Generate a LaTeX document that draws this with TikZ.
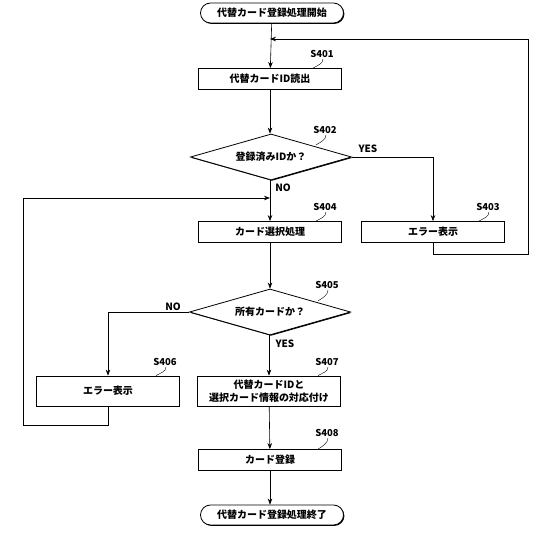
\documentclass[tikz,border=0pt]{standalone}
\usepackage{fontspec}
\setmainfont{Noto Sans CJK JP}
\usetikzlibrary{arrows.meta}
\usetikzlibrary{shapes.geometric}
\usetikzlibrary{shadows}
\tikzset{shade/.style={drop shadow={shadow xshift=0.9pt,shadow yshift=-0.9pt,opacity=1,fill=black}},
	proc/.style={draw,thick,fill=white,shade,minimum width=143pt,minimum height=21pt,align=center,inner sep=1pt},
	term/.style={proc,rounded corners=10pt,minimum height=20pt},
	dec/.style={diamond,draw,thick,fill=white,shade,aspect=3.5,inner sep=1pt,minimum width=161pt,minimum height=46pt},
	steplbl/.style={inner sep=1pt,font=\fontsize{9.5pt}{11pt}\selectfont\bfseries},
	anslbl/.style={inner sep=1pt,font=\fontsize{10pt}{11pt}\selectfont\bfseries},
	flow/.style={draw,semithick,->}}

\begin{document}
\begin{tikzpicture}[x=1pt,y=-1pt,font=\fontsize{10pt}{13pt}\selectfont\bfseries,
	>={Stealth[black,length=6pt,width=4.5pt]}]
		\useasboundingbox (0,0) rectangle (550,534);
		% steps
		\node[term] (T0) at (272,13) {代替カード登録処理開始};
		\node[proc] (P401) at (270,79) {代替カードID読出};
		\node[dec] (D402) at (271,157) {登録済みIDか？};
		\node[proc] (P403) at (433,232) {エラー表示};
		\node[proc] (P404) at (270,232) {カード選択処理};
		\node[dec] (D405) at (270,312) {所有カードか？};
		\node[proc,minimum height=30pt] (P406) at (108,391) {エラー表示};
		\node[proc,minimum height=30pt] (P407) at (269,391) {代替カードIDと\\選択カード情報の対応付け};
		\node[proc] (P408) at (270,460) {カード登録};
		\node[term] (T1) at (272,515) {代替カード登録処理終了};
		% joints of the loops
		\coordinate (J401) at (270,39);
		\coordinate (C403) at (528,254);
		\coordinate (J404) at (270,198);
		\coordinate (C406) at (23,425);
		% connectors
		\path[flow] (T0) -- (P401);
		\path[flow] (P401) -- (D402.north -| P401);
		\path[flow] (D402.south -| P404) -- (P404);
		\path[flow] (D402.east) -| (P403.north);
		\path[flow] (P403.south) |- (C403) |- (J401);
		\path[flow] (P404) -- (D405);
		\path[flow] (D405.west) -| (P406.north);
		\path[flow] (D405.south -| P407) -- (P407);
		\path[flow] (P406.south) |- (C406) |- (J404);
		\path[flow] (P407) -- (P408);
		\path[flow] (P408.south) -- (T1.north -| P408);
		% answers
		\node[anslbl] (Y402) at (368,149) {YES};
		\node[anslbl] (N402) at (283,188) {NO};
		\node[anslbl] (N405) at (173,307) {NO};
		\node[anslbl] (Y405) at (285,344) {YES};
		% step numbers
		\node[steplbl] (L401) at (322,54) {S401};
		\node[steplbl] (L402) at (325,130) {S402};
		\node[steplbl] (L403) at (488,207) {S403};
		\node[steplbl] (L404) at (325,207) {S404};
		\node[steplbl] (L405) at (327,285) {S405};
		\node[steplbl] (L406) at (165,362) {S406};
		\node[steplbl] (L407) at (327,362) {S407};
		\node[steplbl] (L408) at (327,433) {S408};
		\draw ([xshift=1pt]L401.south) .. controls +(0,5) and +(5,-3) .. ([xshift=-9pt]L401.south |- P401.north);
		\draw ([xshift=1pt]L402.south) .. controls +(0,5) and +(5,-3) .. ++(-10,10);
		\draw ([xshift=1pt]L403.south) .. controls +(0,5) and +(5,-3) .. ([xshift=-9pt]L403.south |- P403.north);
		\draw ([xshift=1pt]L404.south) .. controls +(0,5) and +(5,-3) .. ([xshift=-9pt]L404.south |- P404.north);
		\draw ([xshift=1pt]L405.south) .. controls +(0,5) and +(5,-3) .. ++(-10,11);
		\draw ([xshift=1pt]L406.south) .. controls +(0,5) and +(5,-3) .. ([xshift=-9pt]L406.south |- P406.north);
		\draw ([xshift=1pt]L407.south) .. controls +(0,5) and +(5,-3) .. ([xshift=-9pt]L407.south |- P407.north);
		\draw ([xshift=1pt]L408.south) .. controls +(0,5) and +(5,-3) .. ([xshift=-9pt]L408.south |- P408.north);
	\end{tikzpicture}
\end{document}
